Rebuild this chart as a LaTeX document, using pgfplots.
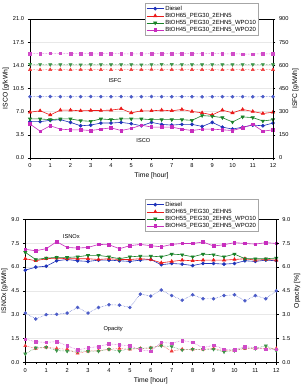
\documentclass[border=0pt]{standalone}
\usepackage{pgfplots}
\pgfplotsset{compat=1.18}
\usepackage{pgfplotstable}
\usepackage{fontspec}
\setmainfont{Liberation Sans}

\definecolor{cDiesel}{RGB}{30,50,185}
\definecolor{cB}{RGB}{235,25,25}
\definecolor{cW10}{RGB}{25,130,40}
\definecolor{cW20}{RGB}{200,45,190}

% t  ISCO: diesel, B65, W10, W20 ; ISFC: diesel, B65, W10, W20
\pgfplotstableread{
t    cod   cob   cow1  cow2  fcd  fcb  fcw1 fcw2
0    5.49  6.92  5.90  5.13  397  572  607  675
0.5  5.49  7.13  5.90  4.05  397  571  606  676
1    5.69  6.51  5.79  4.87  398  572  605  677
1.5  5.79  7.23  5.90  4.36  397  572  605  677
2    5.38  7.23  5.90  4.26  397  571  605  675
2.5  4.87  7.13  5.64  4.26  397  572  604  676
3    4.97  7.18  5.54  4.15  398  572  605  675
3.5  5.28  7.18  5.90  4.36  397  572  605  675
4    5.28  7.23  5.79  4.56  397  571  605  676
4.5  5.38  7.44  5.90  4.15  398  572  605  675
5    5.18  6.82  5.90  4.46  396  572  605  675
5.5  4.87  7.13  5.90  4.97  397  572  604  674
6    5.38  7.13  5.79  4.67  398  573  605  676
6.5  5.08  7.23  5.79  4.67  397  572  607  675
7    4.97  7.13  5.79  4.67  397  572  607  676
7.5  5.08  7.33  5.79  4.36  397  573  605  676
8    5.08  7.03  5.69  4.15  397  572  605  676
8.5  4.77  6.82  6.41  4.36  396  572  605  675
9    5.38  6.51  6.31  4.36  397  572  605  676
9.5  4.67  7.23  6.10  4.26  397  571  605  675
10   4.36  6.82  5.44  4.15  397  572  605  675
10.5 4.67  7.33  6.21  4.56  397  572  605  673
11   4.97  7.03  6.10  5.08  396  571  605  673
11.5 4.87  6.72  5.59  4.05  397  572  606  675
12   5.28  6.92  5.79  4.26  397  572  605  675
}\tabTop

% t  ISNOx: diesel, B65, W10, W20 ; Opacity: diesel, B65, W10, W20
\pgfplotstableread{
t    nod   nob   now1  now2  opd   opb   opw1  opw2
0    5.80  6.52  6.92  7.11  3.10  1.04  0.53  1.46
0.5  5.99  6.39  6.47  7.02  2.73  0.87  0.91  1.29
1    6.05  6.52  6.56  7.15  3.00  0.95  0.95  1.25
1.5  6.39  6.56  6.60  7.59  3.02  0.87  0.74  1.31
2    6.47  6.52  6.60  7.23  3.10  0.82  0.70  1.04
2.5  6.39  6.52  6.64  7.19  3.45  0.57  0.70  0.78
3    6.35  6.52  6.73  7.23  3.10  0.70  0.70  0.91
3.5  6.43  6.47  6.73  7.42  3.45  0.74  0.70  0.99
4    6.43  6.52  6.64  7.40  3.62  0.82  0.82  1.16
4.5  6.39  6.47  6.52  7.15  3.60  0.87  0.70  1.10
5    6.35  6.47  6.64  7.34  3.45  0.82  0.87  1.04
5.5  6.43  6.52  6.68  7.42  4.29  0.87  0.87  0.78
6    6.47  6.47  6.68  7.34  4.17  0.91  0.91  0.70
6.5  6.14  6.26  6.64  7.27  4.55  1.08  1.04  1.25
7    6.22  6.35  6.81  7.42  4.20  0.70  0.99  1.20
7.5  6.18  6.43  6.77  7.48  3.91  0.82  0.78  1.37
8    6.09  6.39  6.64  7.48  4.25  0.82  0.82  1.25
8.5  6.22  6.43  6.81  7.57  4.00  0.82  0.82  0.91
9    6.22  6.43  6.77  7.32  4.00  0.87  0.82  1.08
9.5  6.18  6.43  6.64  7.40  4.20  0.74  0.66  0.82
10   6.22  6.47  6.81  7.53  4.25  0.74  0.74  0.78
10.5 6.39  6.52  6.52  7.48  3.87  0.87  0.91  0.99
11   6.35  6.43  6.52  7.44  4.20  0.87  0.87  0.91
11.5 6.43  6.47  6.52  7.53  4.00  0.87  1.04  0.82
12   6.39  6.43  6.56  7.48  4.50  0.87  0.74  0.82
}\tabBottom

\pgfplotsset{
  base/.style={
    scale only axis,
    xmin=0, xmax=12,
    xtick={0,1,...,12},
    minor x tick num=1,
    tick align=outside,
    tick style={black, line width=0.4pt},
    major tick length=2.5pt,
    minor tick length=1.5pt,
    axis line style={black, line width=0.5pt},
    tick label style={font=\fontsize{5.7}{6}\selectfont},
    label style={font=\fontsize{6.8}{7.5}\selectfont},
    /pgf/number format/assume math mode=true,
    /pgf/number format/fixed,
    /pgf/number format/precision=1,
  },
  lineS/.style={line width=0.6pt, mark size=1.5pt},
  dotS/.style={densely dotted, line width=0.5pt, mark size=1.5pt,
    every mark/.append style={solid}},
  sD/.style={color=cDiesel, mark=*},
  sB/.style={color=cB, mark=triangle*, mark size=1.8pt},
  sW1/.style={color=cW10, mark=triangle*, mark options={solid, rotate=180}, mark size=1.8pt},
  sW2/.style={color=cW20, mark=square*, mark size=1.3pt},
  legsty/.style={legend style={
      font=\fontsize{6}{7}\selectfont,
      draw=gray!70, line width=0.5pt, fill=white,
      inner sep=1.2pt, row sep=-1.2pt,
      legend cell align=left,
      nodes={inner sep=1.3pt}},
    legend image post style={line width=0.6pt}},
}

\begin{document}
\begin{tikzpicture}
\path[use as bounding box] (0,0) rectangle (302bp,385bp);

% ---------- upper panel: ISCO (left) and ISFC (right) ----------
\begin{axis}[base,
  at={(30bp,227bp)}, anchor=south west,
  width=243bp, height=139bp,
  ymin=0, ymax=21, ytick={0,3.5,...,21},
  yticklabel style={/pgf/number format/fixed zerofill},
  xtick pos=bottom, ytick pos=left,
  ymajorgrids, grid style={gray!18, line width=0.4pt},
  xlabel={Time [hour]}, ylabel={ISCO [g/kWh]},
  xlabel style={yshift=2pt}, ylabel style={yshift=-3pt},
  legsty,
  legend style={at={(0.473,1.115)}, anchor=north west},
]
\addplot[lineS, sD]  table[x=t, y=cod]  {\tabTop};
\addlegendentry{Diesel}
\addplot[lineS, sB]  table[x=t, y=cob]  {\tabTop};
\addlegendentry{BtOH65\_PEG30\_2EHN5}
\addplot[lineS, sW1] table[x=t, y=cow1] {\tabTop};
\addlegendentry{BtOH55\_PEG30\_2EHN5\_WPO10}
\addplot[lineS, sW2] table[x=t, y=cow2] {\tabTop};
\addlegendentry{BtOH45\_PEG30\_2EHN5\_WPO20}
\node[font=\fontsize{5.7}{6}\selectfont] at (axis cs:4.2,11.7) {ISFC};
\node[font=\fontsize{5.7}{6}\selectfont] at (axis cs:5.6,2.6) {ISCO};
\end{axis}

\begin{axis}[base,
  at={(30bp,227bp)}, anchor=south west,
  width=243bp, height=139bp,
  ymin=0, ymax=900, ytick={0,150,...,900},
  /pgf/number format/precision=0,
  axis y line*=right, axis x line=none,
  ylabel={ISFC [g/kWh]}, ylabel style={yshift=3pt},
]
\addplot[dotS, sD, color=cDiesel!80]  table[x=t, y=fcd]  {\tabTop};
\addplot[dotS, sB, color=cB!85]  table[x=t, y=fcb]  {\tabTop};
\addplot[dotS, sW1, color=cW10!85] table[x=t, y=fcw1] {\tabTop};
\addplot[dotS, sW2, color=cW20!85] table[x=t, y=fcw2] {\tabTop};
\end{axis}

% ---------- lower panel: ISNOx (left) and Opacity (right) ----------
\begin{axis}[base,
  at={(25.3bp,22.7bp)}, anchor=south west,
  width=251bp, height=143bp,
  ymin=0, ymax=9, ytick={0,1.5,...,9},
  yticklabel style={/pgf/number format/fixed zerofill},
  xtick pos=bottom, ytick pos=left,
  ymajorgrids, grid style={gray!18, line width=0.4pt},
  xlabel={Time [hour]}, ylabel={ISNOx [g/kWh]},
  xlabel style={yshift=2pt}, ylabel style={yshift=-3pt},
  legsty,
  legend style={at={(0.477,1.142)}, anchor=north west},
]
\addplot[lineS, sD]  table[x=t, y=nod]  {\tabBottom};
\addlegendentry{Diesel}
\addplot[lineS, sB]  table[x=t, y=nob]  {\tabBottom};
\addlegendentry{BtOH65\_PEG30\_2EHN5}
\addplot[lineS, sW1] table[x=t, y=now1] {\tabBottom};
\addlegendentry{BtOH55\_PEG30\_2EHN5\_WPO10}
\addplot[lineS, sW2] table[x=t, y=now2] {\tabBottom};
\addlegendentry{BtOH45\_PEG30\_2EHN5\_WPO20}
\node[font=\fontsize{5.7}{6}\selectfont] at (axis cs:2.2,7.9) {ISNOx};
\node[font=\fontsize{5.7}{6}\selectfont] at (axis cs:4.2,2.1) {Opacity};
\end{axis}

\begin{axis}[base,
  at={(25.3bp,22.7bp)}, anchor=south west,
  width=251bp, height=143bp,
  ymin=0, ymax=9, ytick={0,1.5,...,9},
  yticklabel style={/pgf/number format/fixed zerofill},
  axis y line*=right, axis x line=none,
  ylabel={Opacity [\%]}, ylabel style={yshift=3pt},
]
\addplot[dotS, sD, color=cDiesel!80]  table[x=t, y=opd]  {\tabBottom};
\addplot[dotS, sB, color=cB!85]  table[x=t, y=opb]  {\tabBottom};
\addplot[dotS, sW1, color=cW10!85] table[x=t, y=opw1] {\tabBottom};
\addplot[dotS, sW2, color=cW20!85] table[x=t, y=opw2] {\tabBottom};
\end{axis}
\end{tikzpicture}
\end{document}
